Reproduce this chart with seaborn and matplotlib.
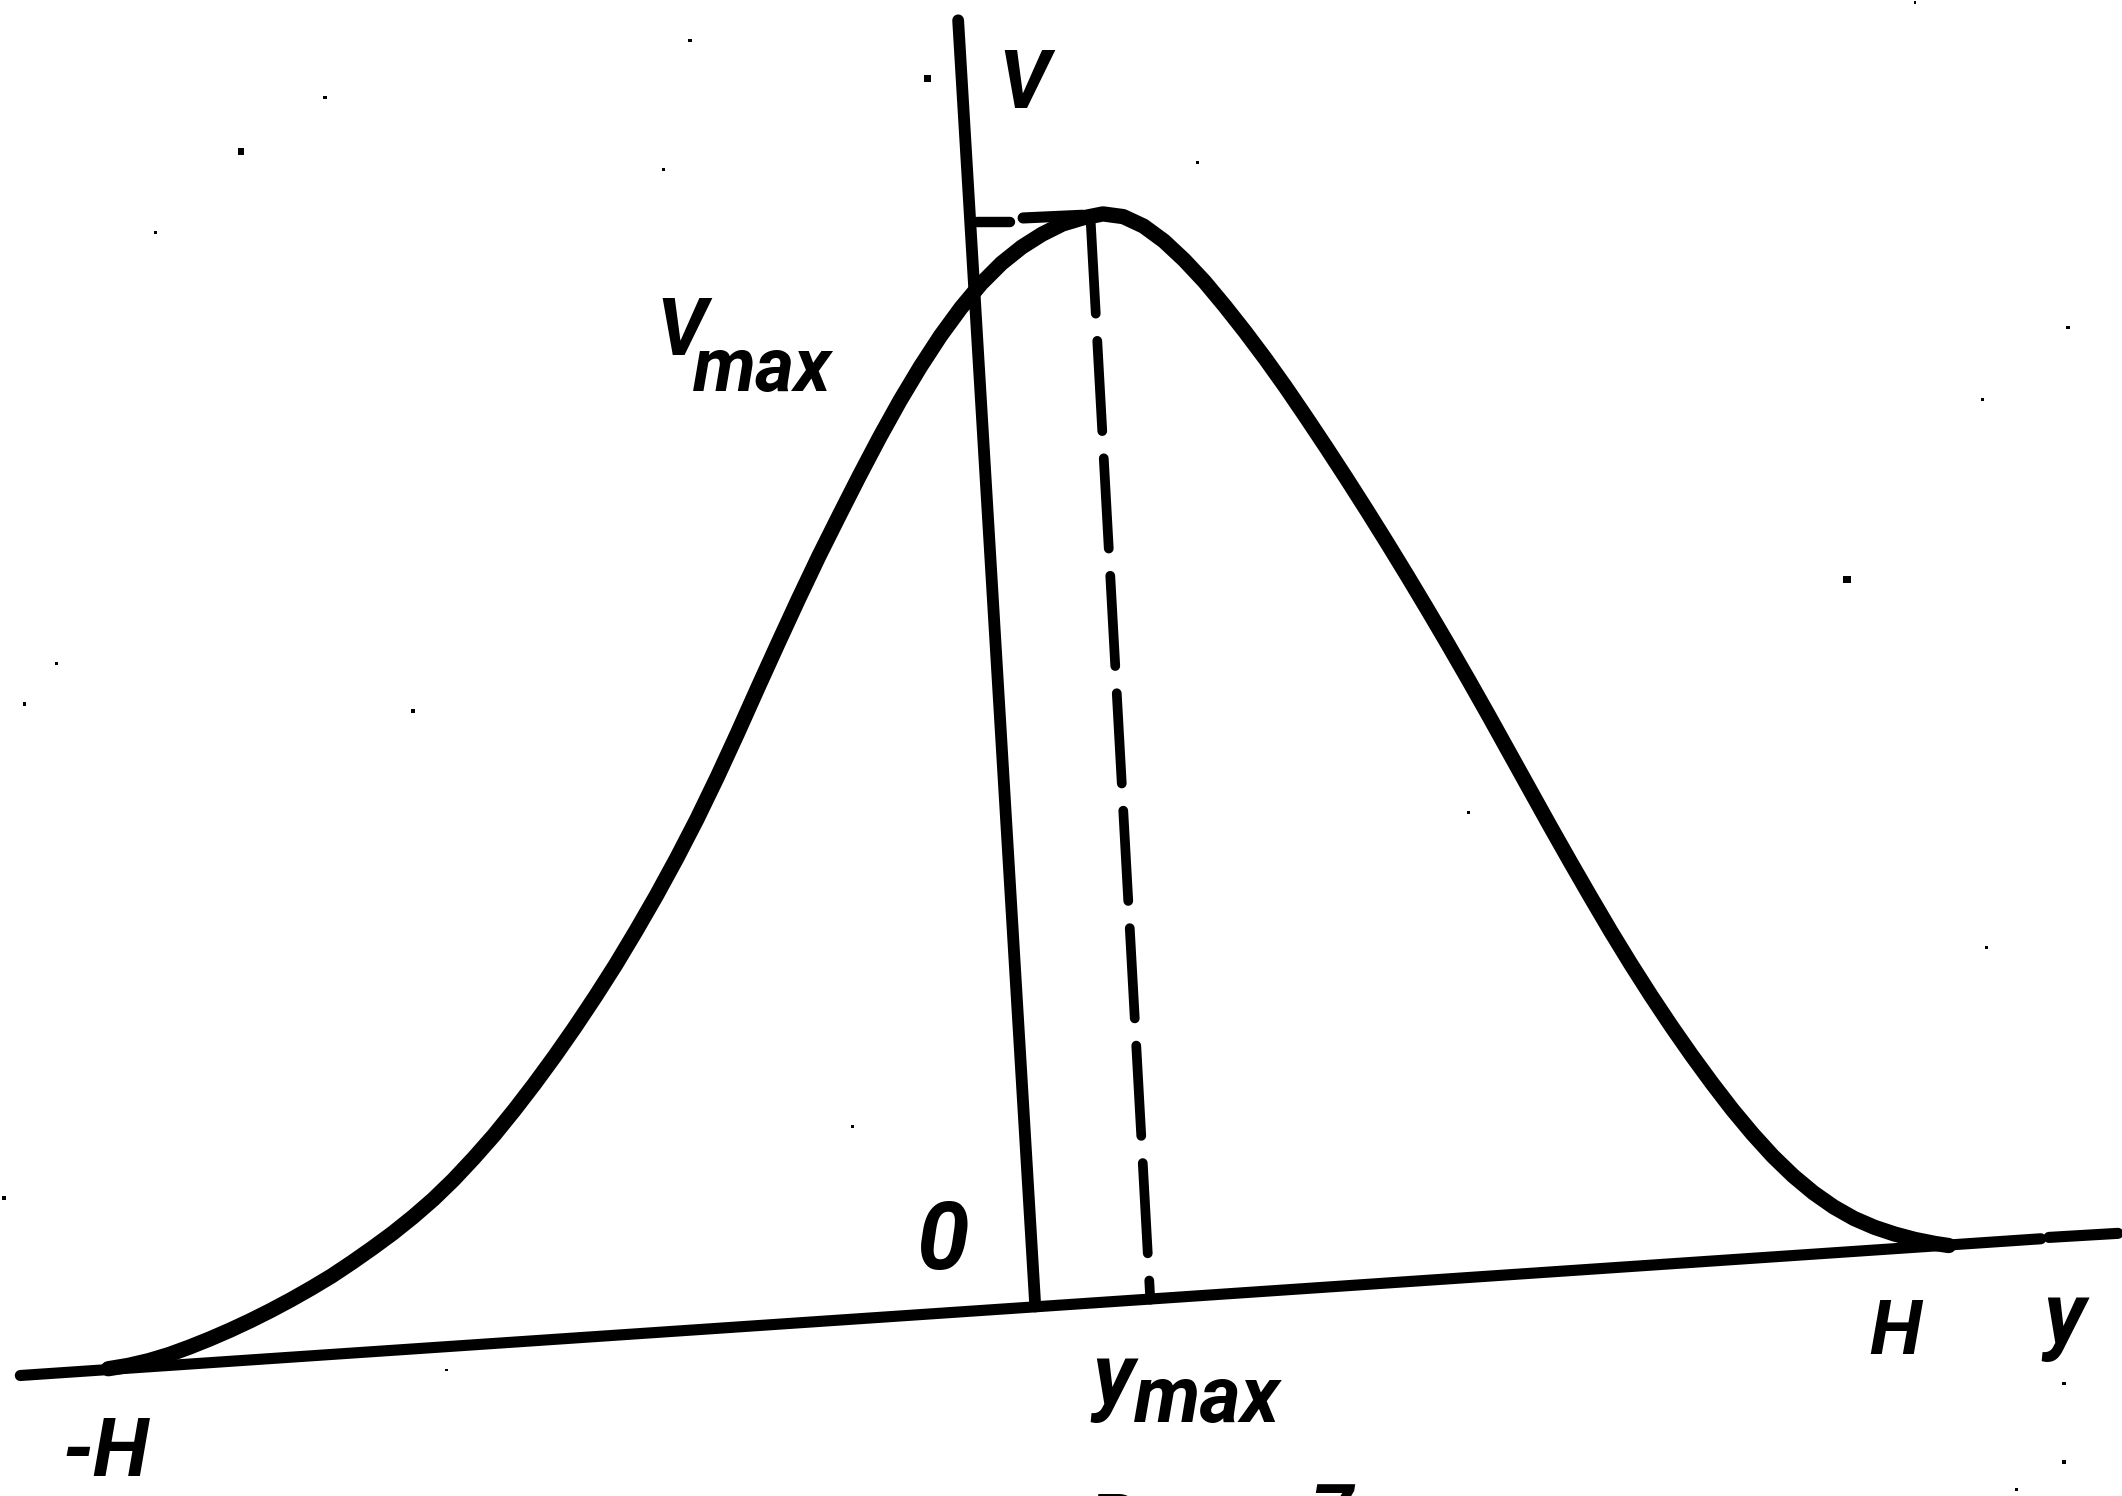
import matplotlib
matplotlib.use("Agg")
import matplotlib.pyplot as plt
import seaborn as sns
import pandas as pd

sns.set_theme(style="white")
plt.rcParams["font.family"] = ["Roboto", "DejaVu Sans"]

# Drawing units: sheet coordinates, x to the right, y downward (1568 x 1105 sheet)
SHEET_W, SHEET_H = 1568, 1105

# Velocity profile V(y) between the walls -H and H
curve_x = [80, 95, 110, 125, 140, 155, 170, 185, 200, 215, 230, 245, 260, 275,
           290, 305, 320, 335, 350, 365, 380, 395, 410, 425, 440, 455, 470,
           485, 500, 515, 530, 545, 560, 575, 590, 605, 620, 635, 650, 665,
           680, 695, 710, 725, 740, 755, 770, 785, 800, 815,
           830, 845, 860, 875, 890, 905, 920, 935, 950, 965, 980, 995, 1010,
           1025, 1040, 1055, 1070, 1085, 1100, 1115, 1130, 1145, 1160, 1175,
           1190, 1205, 1220, 1235, 1250, 1265, 1280, 1295, 1310, 1325, 1340,
           1355, 1370, 1385, 1400, 1415, 1430, 1440]
curve_y = [1011, 1008.5, 1005, 1000.5, 995, 989, 982.5, 975.5, 968, 960, 951.5,
           942.5, 932.5, 922, 911, 899, 886, 871.5, 855.5, 838.5, 820, 800.5,
           780, 758.5, 736, 712.5, 687.5, 661.5, 634, 605, 574, 541.5, 508,
           475, 442.5, 411, 381, 351.5, 323, 296, 271, 248, 227.5, 209.5,
           194.5, 182.5, 173, 165.5, 161, 158,
           160, 167, 178, 192, 208, 226, 245, 265, 286, 308, 330.5, 353.5,
           377, 401, 425.5, 450.5, 476, 502, 528.5, 555.5, 582.5, 609.5, 636,
           662, 687.5, 712, 735.5, 758, 779.5, 800, 819.5, 837.5, 854, 868.5,
           881, 891.5, 900, 906.5, 911.5, 915.5, 918.5, 920]

# y axis (baseline), drawn in two pieces with a small break near the arrow end
base_x = [15, 1508]
base_y = [1016, 915]
base_tail_x = [1514, 1565]
base_tail_y = [914, 911]

# V axis
vaxis_x = [708, 765]
vaxis_y = [15, 965]

# Mark of V_max carried from the V axis to the top of the profile
vmax_tick_x = [722, 746]
vmax_tick_y = [164, 164]
vmax_tick2_x = [756, 800]
vmax_tick2_y = [161, 159]

# Dashed ordinate from the maximum down to y_max
ymax_line_x = [806, 850]
ymax_line_y = [165, 960]

# Specks on the sheet
speck_x = [510, 685, 240, 178, 490, 885, 115, 1528, 1465, 1365, 305, 18, 42,
           1085, 630, 1468, 3, 1525, 1525, 1490, 1415, 330]
speck_y = [30, 58, 72, 112, 125, 120, 172, 242, 295, 428, 525, 520, 490,
           600, 832, 700, 885, 1022, 1080, 1100, 2, 1012]
speck_size = [6, 14, 6, 12, 5, 5, 5, 6, 6, 16, 6, 6, 5,
              5, 5, 6, 8, 6, 6, 5, 5, 5]

fig = plt.figure(figsize=(21.22, 14.96), dpi=100)
ax = fig.add_axes([0, 0, 1, 1])
ink = "black"

curve = pd.DataFrame({"x": curve_x, "y": curve_y})
sns.lineplot(data=curve, x="x", y="y", sort=False, estimator=None, ax=ax,
             color=ink, lw=11, solid_capstyle="round", solid_joinstyle="round")

for xs, ys, lw in [(base_x, base_y, 8), (base_tail_x, base_tail_y, 8),
                   (vaxis_x, vaxis_y, 8.5), (vmax_tick_x, vmax_tick_y, 7.5),
                   (vmax_tick2_x, vmax_tick2_y, 8)]:
    sns.lineplot(x=xs, y=ys, sort=False, estimator=None, ax=ax, color=ink,
                 lw=lw, solid_capstyle="round")

sns.lineplot(x=ymax_line_x, y=ymax_line_y, sort=False, estimator=None, ax=ax,
             color=ink, lw=7, linestyle=(0, (9.3, 2.8)),
             dash_capstyle="round")

sns.scatterplot(x=speck_x, y=speck_y, size=speck_size, sizes=(4, 30),
                legend=False, ax=ax, color=ink, edgecolor="none", marker="s")

font = dict(color=ink, style="italic", fontweight="bold", va="baseline",
            ha="left")
ax.text(738, 80, "V", fontsize=58, **font)
ax.text(485, 262, "V", fontsize=57, **font)
ax.text(512, 289, "max", fontsize=54, **font)
ax.text(677, 937, "0", fontsize=68, **font)
ax.text(1381, 1000, "H", fontsize=55, **font)
ax.text(1510, 992, "y", fontsize=62, **font)
ax.text(807, 1037, "y", fontsize=62, **font)
ax.text(838, 1050, "max", fontsize=57, **font)
ax.text(46, 1090, "-H", fontsize=59, **font)
# Figure caption, running off the lower edge of the sheet
ax.text(803, 1144, "Рис.", fontsize=56, **font)
ax.text(968, 1137, "7", fontsize=56, **font)

ax.set_xlim(0, SHEET_W)
ax.set_ylim(SHEET_H, 0)
ax.axis("off")

fig.savefig("out.png", dpi=100, facecolor="white")
